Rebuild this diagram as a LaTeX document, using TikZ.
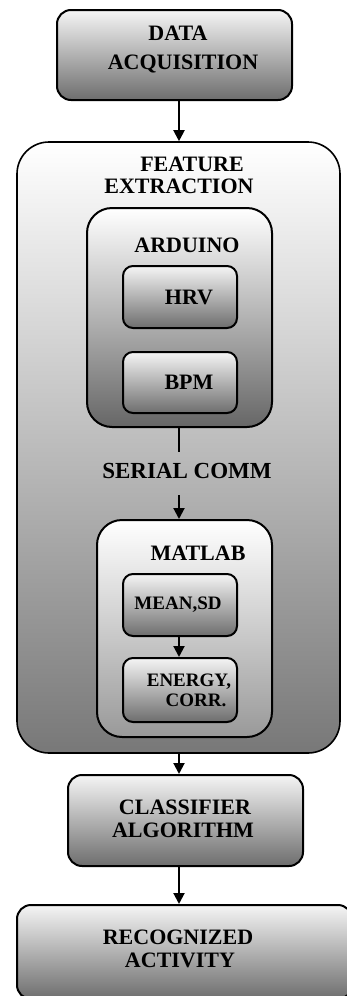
\documentclass[tikz,border=0pt]{standalone}
\usepackage{fontspec}
\setmainfont{Liberation Serif}
\usetikzlibrary{arrows.meta}
\begin{document}
\begin{tikzpicture}[x=1pt,y=-1pt,
  box/.style={draw=black,line width=2pt,rounded corners=#1,top color=white!96!black,bottom color=black!57,inner sep=0pt},
  box/.default=14pt,
  lbl/.style={font=\fontsize{22}{26}\selectfont\bfseries,anchor=base,inner sep=0pt,text=black},
  slbl/.style={font=\fontsize{19}{23}\selectfont\bfseries,anchor=base,inner sep=0pt,text=black},
  arr/.style={line width=2pt,-{Triangle[length=11pt,width=11pt]}},
  ln/.style={line width=2pt}]
\useasboundingbox (0,0) rectangle (347,996);
\clip (0,0) rectangle (347,996);
% boxes
\node[box=14pt,minimum width=235pt,minimum height=90pt] (da) at (174.5,55) {};
\node[box=32pt,line width=1.6pt,top color=white,bottom color=black!53,minimum width=323pt,minimum height=611pt] (fe) at (178.5,447.5) {};
\node[box=25pt,top color=white,bottom color=black!60,minimum width=185pt,minimum height=219pt] (ard) at (179.5,317.5) {};
\node[box=10pt,minimum width=114pt,minimum height=62pt] (hrv) at (180,297) {};
\node[box=10pt,minimum width=114pt,minimum height=61pt] (bpm) at (180,382.5) {};
\node[box=25pt,top color=white,bottom color=black!40,minimum width=175pt,minimum height=217pt] (mat) at (184.5,628.5) {};
\node[box=10pt,minimum width=114pt,minimum height=62pt] (mean) at (180,605) {};
\node[box=10pt,minimum width=114pt,minimum height=64pt] (ener) at (180,690) {};
\node[box=14pt,minimum width=235pt,minimum height=91pt] (cls) at (185.5,820.5) {};
\node[box=14pt,minimum width=335pt,minimum height=94pt] (rec) at (184.5,952) {};
% labels
\node[lbl] (tda1) at (178,40.3) {DATA};
\node[lbl] (tda2) at (183,69.3) {ACQUISITION};
\node[lbl] (tfe1) at (192,171.3) {FEATURE};
\node[lbl] (tfe2) at (179,193.3) {EXTRACTION};
\node[lbl] (tard) at (187,252.3) {ARDUINO};
\node[lbl] (thrv) at (189,304.3) {HRV};
\node[lbl] (tbpm) at (189,389.3) {BPM};
\node[lbl,font=\fontsize{23}{27}\selectfont\bfseries] (tser) at (187,478.5) {SERIAL COMM};
\node[lbl] (tmat) at (198,560.3) {MATLAB};
\node[slbl] (tmean) at (178,609.3) {MEAN,SD};
\node[slbl] (ten1) at (189,686.3) {ENERGY,};
\node[slbl] (ten2) at (196,706.3) {CORR.};
\node[lbl] (tcls1) at (185,814.3) {CLASSIFIER};
\node[lbl] (tcls2) at (183,837.3) {ALGORITHM};
\node[lbl] (trec1) at (178,944.3) {RECOGNIZED};
\node[lbl] (trec2) at (180,967.3) {ACTIVITY};
% connectors
\coordinate (serend) at (179,452);
\coordinate (serstart) at (179,495);
\draw[arr] (da.south -| serend) -- (fe.north -| serend);
\draw[ln] (ard.south -| serend) -- (serend);
\draw[arr] (serstart) -- (mat.north -| serstart);
\draw[arr] (mean.south -| serend) -- (ener.north -| serend);
\draw[arr] (fe.south -| serend) -- (cls.north -| serend);
\draw[arr] (cls.south -| serend) -- (rec.north -| serend);
\end{tikzpicture}
\end{document}
